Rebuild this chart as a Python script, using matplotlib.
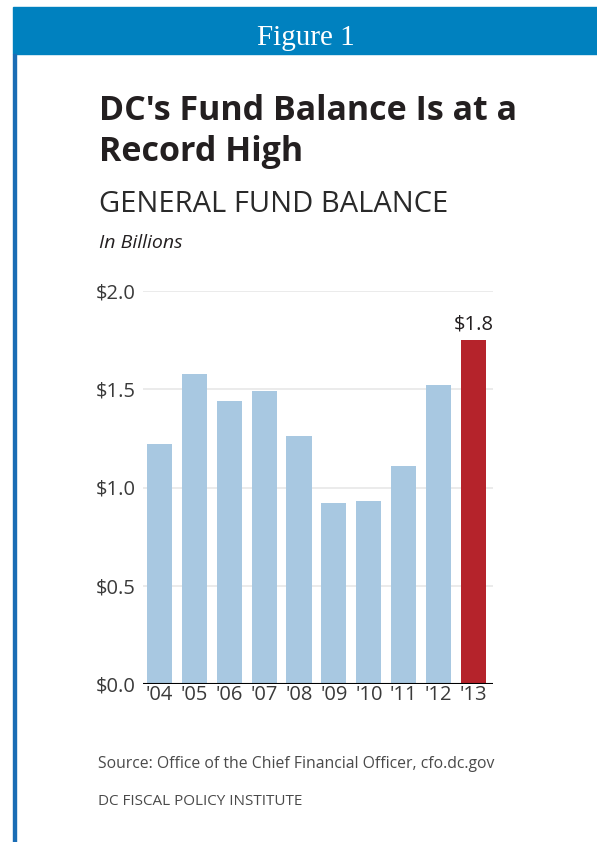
import matplotlib
matplotlib.use("Agg")
import matplotlib.pyplot as plt
from matplotlib.patches import Rectangle

years = ["'04", "'05", "'06", "'07", "'08", "'09", "'10", "'11", "'12", "'13"]
balance = [1.22, 1.58, 1.44, 1.49, 1.26, 0.92, 0.93, 1.11, 1.52, 1.75]
yticks = [0.0, 0.5, 1.0, 1.5, 2.0]
ytick_labels = ["$0.0", "$0.5", "$1.0", "$1.5", "$2.0"]
last_label = "$1.8"

W, H = 597, 842
BLUE = "#0081bf"
BAR = "#a8c8e1"
RED = "#b5232b"
TXT = "#231f20"

plt.rcParams["font.family"] = ["Open Sans", "DejaVu Sans"]

fig = plt.figure(figsize=(W / 100, H / 100), dpi=100)


def px(x, y):
    # pixel coords (top-left origin) -> figure fraction
    return x / W, 1 - y / H


# header band and left border
fig.patches.append(Rectangle(px(13, 54), (W - 13) / W, 47 / H,
                             transform=fig.transFigure, color=BLUE, zorder=0))
fig.patches.append(Rectangle(px(13, H), 2.5 / W, (H - 54) / H,
                             transform=fig.transFigure, color="#1a6db5", zorder=0))
fig.text(*px(306, 45), "Figure 1", family=["Liberation Serif"], fontsize=21,
         color="white", ha="center", va="baseline")

fig.text(*px(99, 120), "DC's Fund Balance Is at a", fontsize=24.5, weight="bold",
         color=TXT, ha="left", va="baseline")
fig.text(*px(99, 161), "Record High", fontsize=24.5, weight="bold",
         color=TXT, ha="left", va="baseline")
fig.text(*px(99, 212), "GENERAL FUND BALANCE", fontsize=21, weight="normal",
         color="#2a2a2a", ha="left", va="baseline")
fig.text(*px(99, 248), "In Billions", fontsize=14, style="italic",
         color=TXT, ha="left", va="baseline")

ax = fig.add_axes([143 / W, 1 - 684 / H, 350 / W, 393 / H])
x = list(range(len(years)))
colors = [BAR] * (len(years) - 1) + [RED]
ax.bar(x, balance, width=0.72, color=colors, zorder=2)
for v in yticks[1:]:
    ax.axhline(v, color="#e8e8e8", lw=1.2, zorder=1)
ax.axhline(0, color="black", lw=1.5, zorder=3)

ax.set_xlim(-0.47, 9.56)
ax.set_ylim(0, 2.0)
ax.set_yticks(yticks)
ax.set_yticklabels(ytick_labels)
ax.set_xticks(x)
ax.set_xticklabels(years)
ax.tick_params(length=0, labelsize=14.5, colors="#3a3a3a")
ax.tick_params(axis="y", pad=5)
ax.tick_params(axis="x", pad=1)
for s in ax.spines.values():
    s.set_visible(False)
ax.set_facecolor("none")

ax.text(x[-1], balance[-1] + 0.03, last_label, ha="center", va="bottom",
        fontsize=14.5, color=TXT)

fig.text(*px(98, 768), "Source: Office of the Chief Financial Officer, cfo.dc.gov",
         fontsize=11.3, color="#4a4a4a", ha="left", va="baseline")
fig.text(*px(98, 805), "DC FISCAL POLICY INSTITUTE", fontsize=11, color="#4a4a4a",
         ha="left", va="baseline")

fig.savefig("out.png", dpi=100)
